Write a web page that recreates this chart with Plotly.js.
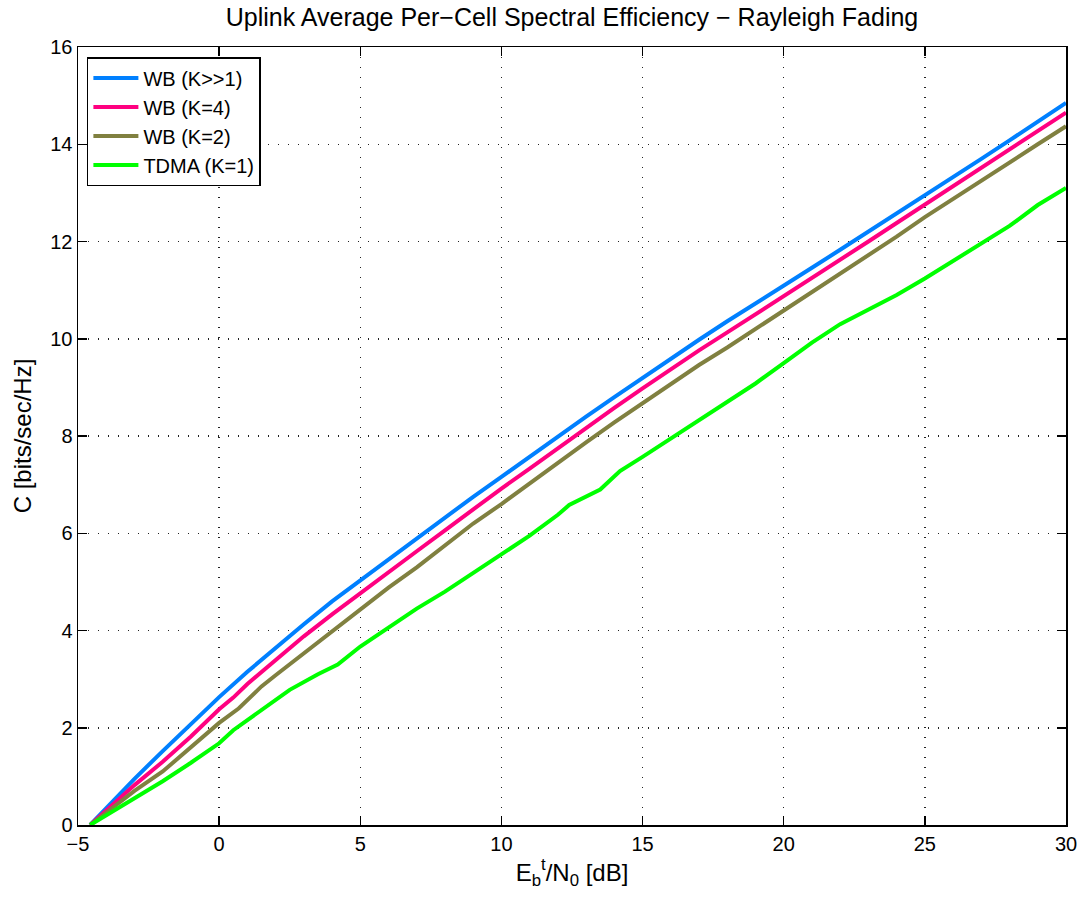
<!DOCTYPE html>
<html>
<head>
<meta charset="utf-8">
<script src="https://cdn.plot.ly/plotly-3.0.1.min.js"></script>
<style>html,body{margin:0;padding:0;background:#fff;}#chart{width:1082px;height:906px;}</style>
</head>
<body>
<div id="chart"></div>
<script>
// Eb/N0 [dB] and C [bits/sec/Hz]
const xWB_inf = [-4.57,-4,-3,-2,-1,0,1,2,3,4,5,6,7,8,9,10,11,12,13,14,15,16,17,18,19,20,21,22,23,24,25,26,27,28,29,30];
const yWB_inf = [0,0.35,0.95,1.52,2.08,2.63,3.15,3.65,4.13,4.6,5.03,5.47,5.9,6.33,6.75,7.16,7.58,7.98,8.4,8.8,9.2,9.6,9.98,10.36,10.72,11.08,11.46,11.83,12.2,12.58,12.95,13.32,13.7,14.08,14.46,14.85];

const xWB_4 = [-4.57,-4,-3,-2,-1,0,0.5,1,2,3,4,5,6,7,8,9,10,11,12,13,14,15,16,17,18,19,20,21,22,23,24,25,26,27,28,29,30];
const yWB_4 = [0,0.3,0.82,1.3,1.82,2.38,2.62,2.9,3.4,3.88,4.33,4.77,5.2,5.63,6.06,6.5,6.92,7.33,7.75,8.17,8.58,8.98,9.38,9.76,10.13,10.5,10.87,11.25,11.62,12.0,12.38,12.76,13.14,13.52,13.9,14.28,14.65];

const xWB_2 = [-4.57,-4,-3,-2,-1,0,0.7,1.5,2,3,4,5,6,7,8,9,10,11,12,13,14,15,16,17,18,19,20,21,22,23,24,25,26,27,28,29,30];
const yWB_2 = [0,0.25,0.7,1.1,1.6,2.1,2.4,2.85,3.08,3.53,4.0,4.45,4.88,5.3,5.75,6.2,6.6,7.03,7.45,7.87,8.28,8.67,9.08,9.46,9.82,10.2,10.58,10.95,11.33,11.72,12.1,12.5,12.88,13.25,13.62,14.0,14.37];

const xTDMA = [-4.57,-4,-3,-2,-1,-0.5,0,0.5,1.3,2.5,3.5,4.2,5,6,7,8,9,10,11,12,12.4,13.5,14.2,15,16,17,18,19,20,21,22,23,24,25,26,27,28,29,30];
const yTDMA = [0,0.2,0.55,0.9,1.28,1.48,1.68,1.95,2.28,2.78,3.1,3.3,3.67,4.05,4.45,4.8,5.18,5.55,5.95,6.38,6.58,6.9,7.28,7.57,7.95,8.33,8.72,9.08,9.5,9.92,10.3,10.6,10.9,11.24,11.6,11.97,12.32,12.75,13.1];

const seriesNames = ['WB (K>>1)','WB (K=4)','WB (K=2)','TDMA (K=1)'];
const seriesColors = ['#0080ff','#ff0080','#808040','#00ff00'];
const xs = [xWB_inf, xWB_4, xWB_2, xTDMA];
const ys = [yWB_inf, yWB_4, yWB_2, yTDMA];

const xTicks = [-5,0,5,10,15,20,25,30];
const yTicks = [0,2,4,6,8,10,12,14,16];

const traces = seriesNames.map((n,i)=>({
  x: xs[i], y: ys[i], name: n, type:'scatter', mode:'lines',
  line:{color:seriesColors[i], width:4}
}));

const font = 'Liberation Sans, Arial, sans-serif';
const axisCommon = {
  showline:true, linecolor:'#000', linewidth:1.5, mirror:'ticks',
  ticks:'inside', ticklen:9, tickcolor:'#000', tickwidth:1.5,
  showgrid:true, gridcolor:'#222', gridwidth:1.5, griddash:'1px,9px',
  zeroline:false, tickfont:{family:font, size:20, color:'#000'}
};

const layout = {
  width:1082, height:906,
  margin:{l:78, r:16, t:47, b:81},
  paper_bgcolor:'#fff', plot_bgcolor:'#fff',
  title:{text:'Uplink Average Per\u2212Cell Spectral Efficiency \u2212 Rayleigh Fading',
         font:{family:font, size:25, color:'#000'}, x:0.5, xref:'paper', xanchor:'center', y:0.981, yanchor:'middle'},
  xaxis:Object.assign({}, axisCommon, {range:[-5,30], tickvals:xTicks, ticktext:xTicks.map(v=>v<0?'\u2212'+Math.abs(v):String(v)),
    title:{text:'E<sub>b</sub><sup>t</sup>/N<sub>0</sub> [dB]', font:{family:font, size:24, color:'#000'}, standoff:10}}),
  yaxis:Object.assign({}, axisCommon, {range:[0,16], tickvals:yTicks,
    title:{text:'C [bits/sec/Hz]', font:{family:font, size:24, color:'#000'}, standoff:12}}),
  showlegend:true,
  legend:{x:0.009, y:0.987, xanchor:'left', yanchor:'top', bgcolor:'#fff', bordercolor:'#000', borderwidth:1.5,
          font:{family:font, size:20, color:'#000'}, tracegroupgap:0, itemwidth:45}
};

Plotly.newPlot('chart', traces, layout, {displayModeBar:false, staticPlot:true});
</script>
</body>
</html>
